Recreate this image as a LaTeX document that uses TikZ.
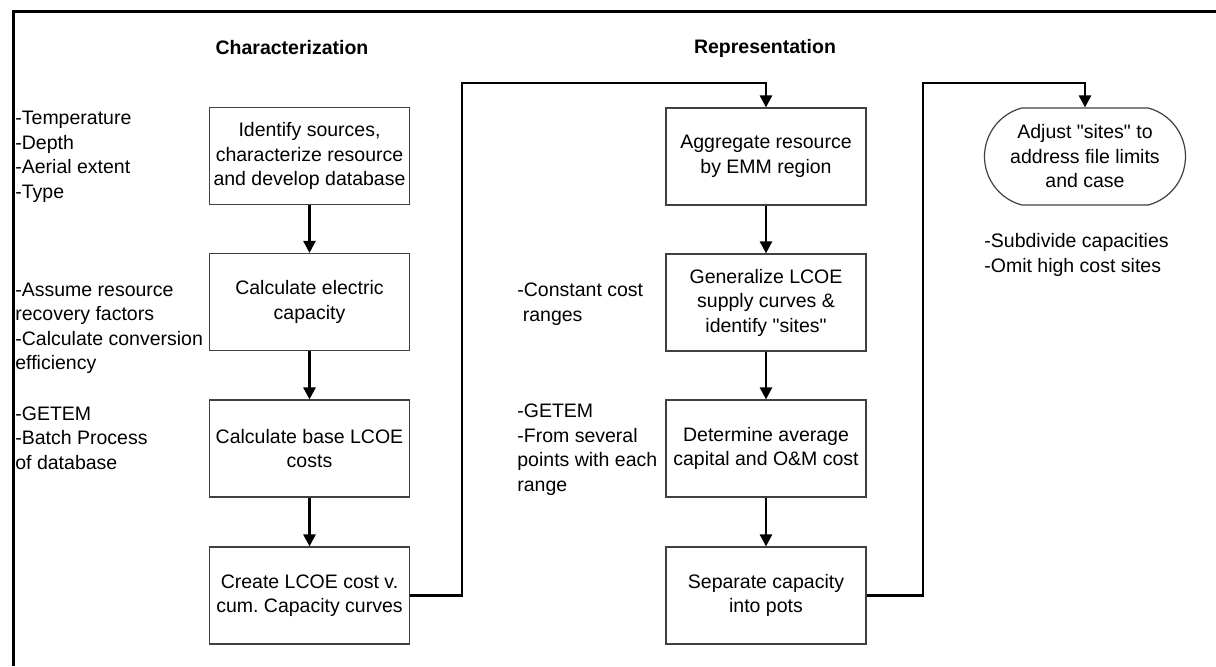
\documentclass[tikz,border=0pt]{standalone}
\usepackage{fontspec}
\setmainfont{Liberation Sans}[Ligatures=TeXOff]
\usetikzlibrary{arrows.meta,shapes.misc}

\begin{document}
\begin{tikzpicture}[x=0.5pt,y=-0.5pt,font=\fontsize{9.75pt}{12.25pt}\selectfont,
  procbox/.style={draw=black!75,line width=0.6pt,minimum width=100pt,minimum height=48.5pt,align=center,inner sep=2pt},
  note/.style={anchor=west,align=left,inner sep=0pt},
  link/.style={line width=1.3pt,-{Triangle[length=6pt,width=6pt]}}]
\useasboundingbox (0,0) rectangle (1216,666);
\draw[line width=1.5pt] (1216,11) -- (13,11) -- (13,666);
% column titles
\node[font=\fontsize{9.75pt}{12.25pt}\selectfont\bfseries] (tchar) at (292,48) {Characterization};
\node[font=\fontsize{9.75pt}{12.25pt}\selectfont\bfseries] (trep) at (765,48) {Representation};
% characterization steps
\node[procbox] (src) at (309.5,156) {Identify sources,\\characterize resource\\and develop database};
\node[procbox] (cap) at (309.5,302) {Calculate electric\\capacity};
\node[procbox] (lcoe) at (309.5,448.5) {Calculate base LCOE\\costs};
\node[procbox] (curve) at (309.5,595.5) {Create LCOE cost v.\\cum.\ Capacity curves};
% representation steps
\node[procbox] (agg) at (766,156.5) {Aggregate resource\\by EMM region};
\node[procbox] (gen) at (766,302.5) {Generalize LCOE\\supply curves \&\\identify "sites"};
\node[procbox] (avg) at (766,448.5) {Determine average\\capital and O\&M cost};
\node[procbox] (pots) at (766,595.5) {Separate capacity\\into pots};
\node[procbox,shape=rounded rectangle,rounded rectangle arc length=150,minimum width=104.5pt] (adjust) at (1085,156.5) {Adjust "sites" to\\address file limits\\and case};
% side notes
\node[note] (n1) at (15,157) {-Temperature\\-Depth\\-Aerial extent\\-Type};
\node[note] (n2) at (15,328.5) {-Assume resource\\recovery factors\\-Calculate conversion\\efficiency};
\node[note] (n3) at (15,438) {-GETEM\\-Batch Process\\of database};
\node[note] (n4) at (517,304) {-Constant cost\\\ ranges};
\node[note] (n5) at (517,449.5) {-GETEM\\-From several\\points with each\\range};
\node[note] (n6) at (984,255) {-Subdivide capacities\\-Omit high cost sites};
% flow
\foreach \a/\b in {src/cap,cap/lcoe,lcoe/curve,agg/gen,gen/avg,avg/pots} { \draw[link] (\a) -- (\b); };
\coordinate (c1) at (462,83); \coordinate (c2) at (923,83);
\draw[link] (curve.east) -| (c1) -| (agg.north);
\draw[link] (pots.east) -| (c2) -| (adjust.north);
\end{tikzpicture}
\end{document}
